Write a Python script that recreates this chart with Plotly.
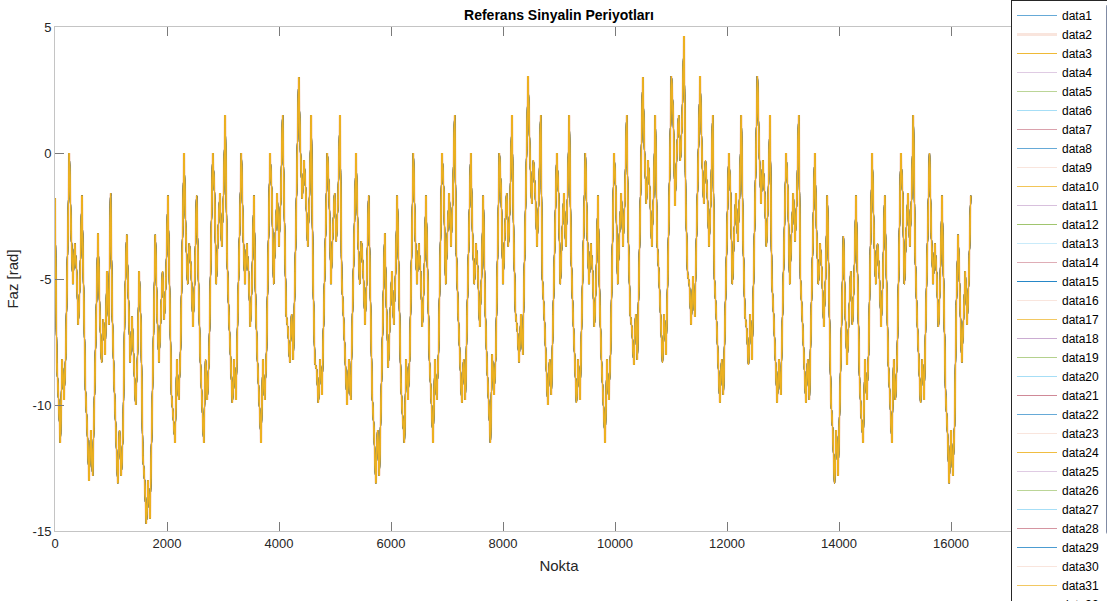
import plotly.graph_objects as go

period_len = 512
sample_step = 32
faz_periods = [
    [-1.8, -8.3, -9.8, -11.5, -8.2, -9.8, -8.0, -3.5, 0.0, -3.1, -5.2, -3.6, -4.6, -6.8, -5.0, -1.7],
    [-6.0, -9.4, -11.0, -13.0, -11.0, -12.8, -9.8, -6.0, -3.2, -6.4, -8.3, -6.6, -8.0, -4.7, -6.8, -1.6],
    [-6.5, -9.1, -11.0, -13.1, -11.0, -12.8, -11.0, -6.0, -3.25, -6.2, -8.3, -6.5, -8.0, -10.0, -8.2, -4.7],
    [-7.0, -12.0, -13.0, -14.7, -13.0, -14.5, -11.0, -6.5, -3.25, -6.4, -8.3, -6.6, -4.7, -6.6, -4.9, -1.7],
    [-6.0, -9.6, -10.5, -11.5, -8.2, -9.8, -8.0, -3.5, 0.0, -3.2, -5.2, -3.6, -4.7, -6.9, -5.0, -1.7],
    [-5.5, -8.0, -9.8, -11.5, -8.2, -9.8, -8.0, -3.5, 0.0, -1.5, -5.2, -3.2, -1.6, -3.7, -1.8, 1.5],
    [-4.0, -6.4, -8.3, -9.9, -8.2, -9.8, -6.4, -3.0, 0.0, -3.2, -5.2, -3.6, -4.7, -6.9, -5.0, -1.7],
    [-6.0, -8.3, -10.0, -11.5, -8.2, -9.8, -8.0, -3.5, 0.0, -1.6, -5.2, -3.2, -1.6, -3.7, -1.8, 1.5],
    [-3.5, -6.4, -7.0, -8.3, -6.4, -8.2, -4.7, 0.0, 3.0, 0.0, -1.8, -0.3, -1.6, -3.7, -1.8, 1.5],
    [-5.0, -8.3, -8.6, -9.9, -8.2, -9.6, -6.4, -3.0, 0.0, -1.6, -5.2, -3.2, -1.6, -3.5, -1.8, 1.5],
    [-5.0, -6.5, -8.4, -10.0, -8.2, -9.8, -6.4, -3.0, 0.0, -3.1, -5.2, -3.5, -4.7, -6.8, -5.0, -1.7],
    [-6.2, -9.6, -11.0, -13.1, -11.0, -12.8, -9.8, -6.0, -3.2, -6.2, -8.5, -6.5, -4.7, -6.8, -4.9, -1.7],
    [-6.0, -9.1, -10.5, -11.5, -8.2, -9.8, -8.0, -3.5, 0.0, -3.2, -5.2, -3.6, -4.7, -6.9, -5.0, -1.7],
    [-5.5, -8.3, -9.8, -11.5, -8.2, -9.8, -8.0, -3.5, 0.0, -1.6, -5.2, -3.2, -1.6, -3.7, -1.8, 1.5],
    [-4.0, -6.4, -8.3, -9.9, -8.2, -9.8, -6.4, -3.0, 0.0, -3.2, -5.2, -3.6, -4.7, -6.9, -5.0, -1.7],
    [-6.0, -8.3, -10.0, -11.5, -8.0, -9.6, -8.0, -3.5, 0.0, -1.6, -5.2, -3.2, -1.6, -3.7, -1.8, 1.5],
    [-3.5, -6.4, -7.0, -8.3, -6.4, -8.0, -4.7, 0.0, 3.05, 0.0, -2.0, -0.3, -1.6, -3.7, -1.8, 1.5],
    [-5.0, -6.4, -8.4, -10.0, -8.2, -9.6, -6.4, -3.0, 0.0, -1.6, -5.2, -3.2, -1.6, -3.7, -1.8, 1.5],
    [-4.0, -6.3, -8.2, -9.9, -8.2, -9.8, -6.4, -3.0, 0.0, -3.2, -5.2, -3.6, -4.7, -6.9, -5.0, -1.7],
    [-6.0, -8.3, -10.0, -11.5, -8.2, -9.8, -8.0, -3.5, 0.0, -1.6, -5.2, -3.2, -1.6, -3.7, -1.8, 1.5],
    [-3.5, -6.4, -7.0, -8.4, -6.4, -8.2, -4.7, 0.0, 3.0, 0.0, -2.0, -0.3, -1.6, -3.7, -1.8, 1.5],
    [-3.5, -4.8, -6.4, -8.3, -6.4, -8.0, -4.7, 0.0, 3.05, 1.5, -2.1, 0.0, 1.5, -0.3, 1.4, 4.64],
    [-2.0, -4.8, -5.2, -6.8, -4.9, -6.5, -3.2, 0.0, 3.05, 0.0, -2.0, -0.3, -1.6, -3.7, -1.8, 1.5],
    [-5.0, -6.4, -8.4, -9.9, -8.2, -9.6, -6.4, -3.0, 0.0, -1.6, -5.2, -3.2, -1.6, -3.5, -1.8, 1.5],
    [-3.5, -6.4, -7.0, -8.4, -6.4, -8.2, -4.7, 0.0, 3.05, 0.0, -2.0, -0.3, -1.6, -3.7, -1.8, 1.5],
    [-5.0, -6.4, -8.4, -9.9, -8.2, -9.6, -6.4, -3.0, 0.0, -1.6, -5.2, -3.2, -1.6, -3.5, -1.8, 1.5],
    [-5.0, -6.5, -8.4, -9.9, -8.2, -9.8, -6.4, -3.0, 0.0, -3.2, -5.2, -3.6, -4.8, -6.9, -5.0, -1.7],
    [-6.4, -9.8, -11.0, -13.1, -11.0, -12.8, -9.8, -6.0, -3.3, -6.4, -8.4, -6.6, -4.7, -6.8, -4.9, -1.7],
    [-6.0, -9.1, -10.5, -11.5, -8.2, -9.8, -8.0, -3.5, 0.0, -3.2, -5.2, -3.6, -4.8, -6.9, -5.0, -1.7],
    [-5.5, -8.3, -9.8, -11.5, -8.2, -9.8, -8.0, -3.5, 0.0, -1.6, -5.2, -3.2, -1.6, -3.7, -1.8, 1.5],
    [-4.0, -6.4, -8.3, -9.9, -8.2, -9.8, -6.4, -3.0, 0.0, -3.2, -5.2, -3.6, -4.8, -6.9, -5.0, -1.7],
    [-6.5, -9.6, -11.0, -13.1, -11.0, -12.8, -10.8, -6.0, -3.25, -6.4, -8.3, -6.6, -4.7, -6.8, -4.9, -1.7],
]

series_names = ["data%d" % i for i in range(1, 41)]
x_tick_values = [0, 2000, 4000, 6000, 8000, 10000, 12000, 14000, 16000]
y_tick_values = [-15, -10, -5, 0, 5]

# MATLAB default colour order and the opacity seen in the legend for each series
matlab_colors = [(0, 114, 189), (217, 83, 25), (237, 177, 32), (126, 47, 142),
                 (119, 172, 48), (77, 190, 238), (162, 20, 47)]
series_alpha = [0.6, 0.15, 0.9, 0.25, 0.5, 0.5, 0.4,
                0.6, 0.15, 0.75, 0.3, 0.7, 0.3, 0.35,
                0.85, 0.15, 0.7, 0.4, 0.55, 0.5, 0.5,
                0.6, 0.15, 0.85, 0.25, 0.5, 0.5, 0.45,
                0.7, 0.15, 0.7, 0.3, 0.75, 0.35, 0.4,
                0.85, 0.15, 0.8, 0.3, 0.5]

nokta = []
faz = []
for p, row in enumerate(faz_periods):
    for k, v in enumerate(row):
        nokta.append(p * period_len + k * sample_step)
        faz.append(v)

fig = go.Figure()

# draw order: pale orange first, then others, yellow on top; legend ordered by rank
order = sorted(range(len(series_names)),
               key=lambda i: (0 if i % 7 == 1 else (2 if i % 7 == 2 else 1), i))
for i in order:
    r, g, b = matlab_colors[i % 7]
    a = series_alpha[i]
    width = 3 if i == 1 else 1
    fig.add_trace(go.Scatter(
        x=nokta, y=faz, mode="lines", name=series_names[i],
        line=dict(color="rgba(%d,%d,%d,%.2f)" % (r, g, b, a), width=width),
        legendrank=i + 1, hoverinfo="skip",
    ))

font_family = "Liberation Sans, Arial, sans-serif"
axis_common = dict(
    showgrid=False, zeroline=False, showline=True, linecolor="#c4c4c4", linewidth=1,
    mirror="ticks", ticks="inside", ticklen=9, tickcolor="#7a7a7a", tickwidth=1,
    tickfont=dict(family=font_family, size=13, color="#262626"),
)

fig.update_layout(
    width=1107, height=601,
    margin=dict(l=55, r=44, t=27, b=70, autoexpand=False),
    paper_bgcolor="white", plot_bgcolor="white",
    font=dict(family=font_family, color="#262626"),
    title=dict(text="<b>Referans Sinyalin Periyotları</b>", x=0.5, xref="paper",
               y=1 - 15 / 601, yref="container", yanchor="middle", xanchor="center",
               font=dict(family=font_family, size=14, color="#000000")),
    xaxis=dict(range=[0, 18000], tickmode="array", tickvals=x_tick_values,
               ticktext=[str(v) for v in x_tick_values],
               title=dict(text="Nokta", font=dict(family=font_family, size=15, color="#262626"), standoff=10),
               **axis_common),
    yaxis=dict(range=[-15, 5], tickmode="array", tickvals=y_tick_values,
               ticktext=[str(v) for v in y_tick_values],
               title=dict(text="Faz [rad]", font=dict(family=font_family, size=15, color="#262626"), standoff=10),
               **axis_common),
    showlegend=True,
    legend=dict(x=(1011 - 55) / 1008, xanchor="left", xref="paper",
                y=1 + 27 / 504, yanchor="top", yref="paper", maxheight=640,
                bgcolor="white", bordercolor="#262626", borderwidth=1,
                font=dict(family=font_family, size=12, color="#000000"),
                tracegroupgap=0, itemwidth=40),
)

fig.write_html("out.html")
